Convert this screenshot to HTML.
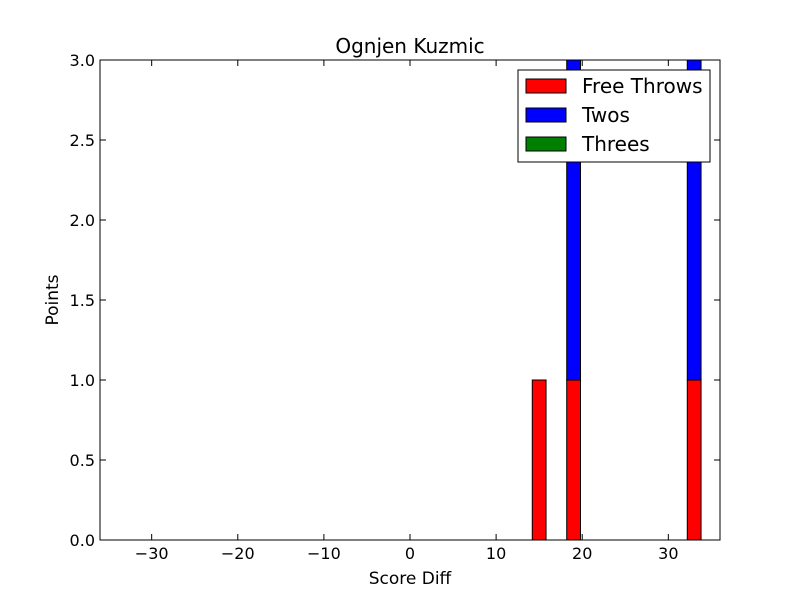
<!DOCTYPE html>
<html><head><meta charset="utf-8"><style>
body{margin:0;background:#fff;}
svg text{font-family:"DejaVu Sans","Liberation Sans",sans-serif;}
</style></head><body>
<svg id="chart" width="800" height="600" xmlns="http://www.w3.org/2000/svg">
<rect width="800" height="600" fill="#fff"/>
<g id="bars"></g>
<rect x="100" y="60" width="620" height="480" fill="none" stroke="#000" stroke-width="1"/>
<g id="axes"></g>
<text x="410" y="53" font-size="20" text-anchor="middle">Ognjen Kuzmic</text>
<text x="410" y="584" font-size="17" text-anchor="middle">Score Diff</text>
<text x="58" y="300" font-size="17" text-anchor="middle" transform="rotate(-90 58 300)">Points</text>
<g>
<rect x="518" y="70" width="192" height="92" fill="#fff" stroke="#000"/>
<g><rect x="526" y="79" width="40" height="14" fill="#ff0000" stroke="#000"/><text x="582" y="93" font-size="20">Free Throws</text></g>
<g><rect x="526" y="108" width="40" height="14" fill="#0000ff" stroke="#000"/><text x="582" y="122" font-size="20">Twos</text></g>
<g><rect x="526" y="137" width="40" height="14" fill="#008000" stroke="#000"/><text x="582" y="151" font-size="20">Threes</text></g>
</g>
</svg>
<script>
const binCenters = [-35,-33,-31,-29,-27,-25,-23,-21,-19,-17,-15,-13,-11,-9,-7,-5,-3,-1,1,3,5,7,9,11,13,15,17,19,21,23,25,27,29,31,33,35];
const freeThrows = [0,0,0,0,0,0,0,0,0,0,0,0,0,0,0,0,0,0,0,0,0,0,0,0,0,1,0,1,0,0,0,0,0,0,1,0];
const twos =       [0,0,0,0,0,0,0,0,0,0,0,0,0,0,0,0,0,0,0,0,0,0,0,0,0,0,0,2,0,0,0,0,0,0,2,0];
const threes =     [0,0,0,0,0,0,0,0,0,0,0,0,0,0,0,0,0,0,0,0,0,0,0,0,0,0,0,0,0,0,0,0,0,0,0,0];
const xTicks = [-30,-20,-10,0,10,20,30];
const yTicks = [0,0.5,1,1.5,2,2.5,3];
const barWidth = 1.6;
const xMin=-36,xMax=36,yMin=0,yMax=3;
const X=v=>100+(v-xMin)/(xMax-xMin)*620;
const Y=v=>540-(v-yMin)/(yMax-yMin)*480;
const NS="http://www.w3.org/2000/svg";
const bars=document.getElementById('bars');
const series=[[freeThrows,'#ff0000','free-throws'],[twos,'#0000ff','twos'],[threes,'#008000','threes']];
binCenters.forEach((c,i)=>{
  let base=0;
  series.forEach(([vals,col,nm])=>{
    const v=vals[i];
    let r;
    if(v===0){
      r=document.createElementNS(NS,'line');
      r.setAttribute('x1',X(c-barWidth/2));r.setAttribute('x2',X(c+barWidth/2));
      r.setAttribute('y1',Y(base));r.setAttribute('y2',Y(base));
      r.setAttribute('stroke','#000');r.setAttribute('stroke-width','1');
    } else {
      r=document.createElementNS(NS,'rect');
      r.setAttribute('x',X(c-barWidth/2));
      r.setAttribute('width',X(c+barWidth/2)-X(c-barWidth/2));
      r.setAttribute('y',Y(base+v));
      r.setAttribute('height',Y(base)-Y(base+v));
      r.setAttribute('fill',col);r.setAttribute('stroke','#000');r.setAttribute('stroke-width','1');
    }
    
    
    bars.appendChild(r);
    base+=v;
  });
});
const axes=document.getElementById('axes');
function add(tag,attrs,txt){const e=document.createElementNS(NS,tag);for(const k in attrs)e.setAttribute(k,attrs[k]);if(txt!=null)e.textContent=txt;axes.appendChild(e);return e;}
xTicks.forEach(t=>{
  const x=X(t);
  add('line',{x1:x,x2:x,y1:540,y2:534,stroke:'#000'});
  add('line',{x1:x,x2:x,y1:60,y2:66,stroke:'#000'});
  const e=add('text',{x:x,y:559,'font-size':16,'text-anchor':'middle'},t<0?'\u2212'+(-t):String(t));
  
  
});
yTicks.forEach(t=>{
  const y=Y(t);
  add('line',{x1:100,x2:106,y1:y,y2:y,stroke:'#000'});
  add('line',{x1:720,x2:714,y1:y,y2:y,stroke:'#000'});
  const e=add('text',{x:95,y:y+6,'font-size':16,'text-anchor':'end'},t.toFixed(1));
  
  
});
</script>
</body></html>
